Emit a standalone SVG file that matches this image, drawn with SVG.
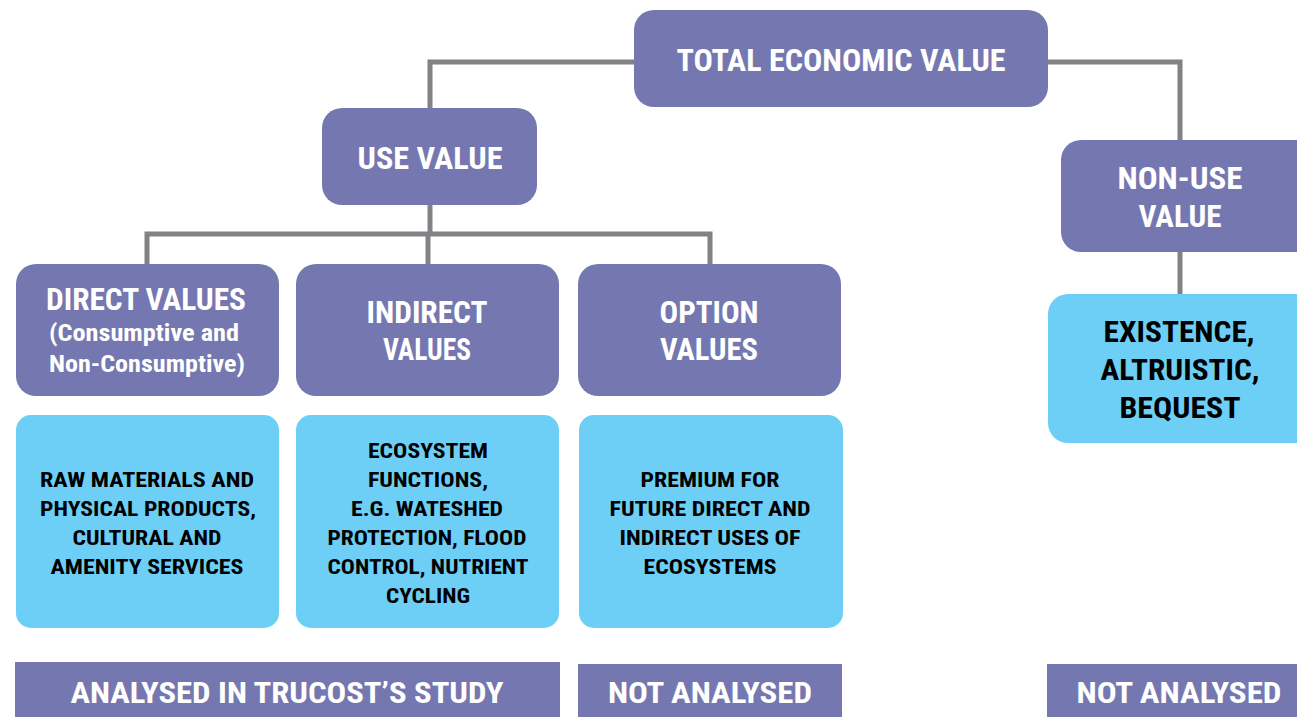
<svg xmlns="http://www.w3.org/2000/svg" width="1297" height="717" viewBox="0 0 1297 717">
<style>
.p{fill:#7578B0}
.b{fill:#6DCFF6}
.c{fill:none;stroke:#808285;stroke-width:5}
text{font-family:"Roboto Condensed","Liberation Sans Narrow","Liberation Sans",Arial,sans-serif;font-weight:bold;text-anchor:middle}
.w{fill:#fff;font-size:31px}
.ws{fill:#fff;font-size:23px}
.k{fill:#000;font-size:21px}
.kl{fill:#000;font-size:30px}
</style>
<rect width="1297" height="717" fill="#fff"/>
<g id="connectors">
<path class="c" d="M636 62H430V110"/>
<path class="c" d="M1046 62H1180V142"/>
<path class="c" d="M430 204V234"/>
<path class="c" d="M147 266V234H710V266"/>
<path class="c" d="M428 234V266"/>
<path class="c" d="M1180 250V296"/>
</g>
<g id="total">
<rect class="p" x="634" y="10" width="414" height="97" rx="20"/>
<text class="w" x="841" y="71" textLength="329" lengthAdjust="spacingAndGlyphs">TOTAL ECONOMIC VALUE</text>
</g>
<g id="use">
<rect class="p" x="322" y="108" width="215" height="97" rx="20"/>
<text class="w" x="430" y="169" textLength="145" lengthAdjust="spacingAndGlyphs">USE VALUE</text>
</g>
<g id="nonuse">
<rect class="p" x="1061" y="140" width="256" height="112" rx="20"/>
<text class="w" x="1180" y="189" textLength="125" lengthAdjust="spacingAndGlyphs">NON-USE</text>
<text class="w" x="1180" y="227" textLength="83" lengthAdjust="spacingAndGlyphs">VALUE</text>
</g>
<g id="direct">
<rect class="p" x="16" y="264" width="263" height="132" rx="20"/>
<text class="w" x="146" y="310" textLength="200" lengthAdjust="spacingAndGlyphs">DIRECT VALUES</text>
<text class="ws" x="144" y="341" textLength="190" lengthAdjust="spacingAndGlyphs">(Consumptive and</text>
<text class="ws" x="147" y="372" textLength="196" lengthAdjust="spacingAndGlyphs">Non-Consumptive)</text>
</g>
<g id="indirect">
<rect class="p" x="296" y="264" width="263" height="132" rx="20"/>
<text class="w" x="427" y="323" textLength="121" lengthAdjust="spacingAndGlyphs">INDIRECT</text>
<text class="w" x="427" y="360" textLength="88" lengthAdjust="spacingAndGlyphs">VALUES</text>
</g>
<g id="option">
<rect class="p" x="578" y="264" width="263" height="132" rx="20"/>
<text class="w" x="709" y="323" textLength="99" lengthAdjust="spacingAndGlyphs">OPTION</text>
<text class="w" x="709" y="360" textLength="98" lengthAdjust="spacingAndGlyphs">VALUES</text>
</g>
<g id="existence">
<rect class="b" x="1048" y="294" width="269" height="149" rx="20"/>
<text class="kl" x="1179" y="342" textLength="151" lengthAdjust="spacingAndGlyphs">EXISTENCE,</text>
<text class="kl" x="1180" y="380" textLength="159" lengthAdjust="spacingAndGlyphs">ALTRUISTIC,</text>
<text class="kl" x="1180" y="418" textLength="121" lengthAdjust="spacingAndGlyphs">BEQUEST</text>
</g>
<g id="direct-desc">
<rect class="b" x="16" y="415" width="263" height="213" rx="15"/>
<text class="k" x="147" y="487" textLength="214" lengthAdjust="spacingAndGlyphs">RAW MATERIALS AND</text>
<text class="k" x="148" y="516" textLength="216" lengthAdjust="spacingAndGlyphs">PHYSICAL PRODUCTS,</text>
<text class="k" x="147" y="545" textLength="149" lengthAdjust="spacingAndGlyphs">CULTURAL AND</text>
<text class="k" x="147" y="574" textLength="193" lengthAdjust="spacingAndGlyphs">AMENITY SERVICES</text>
</g>
<g id="indirect-desc">
<rect class="b" x="296" y="415" width="263" height="213" rx="15"/>
<text class="k" x="428" y="458" textLength="120" lengthAdjust="spacingAndGlyphs">ECOSYSTEM</text>
<text class="k" x="428" y="487" textLength="120" lengthAdjust="spacingAndGlyphs">FUNCTIONS,</text>
<text class="k" x="427" y="516" textLength="152" lengthAdjust="spacingAndGlyphs">E.G. WATESHED</text>
<text class="k" x="427" y="545" textLength="199" lengthAdjust="spacingAndGlyphs">PROTECTION, FLOOD</text>
<text class="k" x="428" y="574" textLength="201" lengthAdjust="spacingAndGlyphs">CONTROL, NUTRIENT</text>
<text class="k" x="428" y="603" textLength="84" lengthAdjust="spacingAndGlyphs">CYCLING</text>
</g>
<g id="option-desc">
<rect class="b" x="579" y="415" width="264" height="213" rx="15"/>
<text class="k" x="710" y="487" textLength="139" lengthAdjust="spacingAndGlyphs">PREMIUM FOR</text>
<text class="k" x="710" y="516" textLength="201" lengthAdjust="spacingAndGlyphs">FUTURE DIRECT AND</text>
<text class="k" x="710" y="545" textLength="181" lengthAdjust="spacingAndGlyphs">INDIRECT USES OF</text>
<text class="k" x="710" y="574" textLength="133" lengthAdjust="spacingAndGlyphs">ECOSYSTEMS</text>
</g>
<g id="analysed">
<rect class="p" x="15" y="662" width="545" height="55"/>
<text class="w" x="287" y="703" textLength="433" lengthAdjust="spacingAndGlyphs" style="font-size:30px">ANALYSED IN TRUCOST’S STUDY</text>
</g>
<g id="not-analysed-1">
<rect class="p" x="578" y="664" width="264" height="53"/>
<text class="w" x="710" y="703" textLength="204" lengthAdjust="spacingAndGlyphs" style="font-size:30px">NOT ANALYSED</text>
</g>
<g id="not-analysed-2">
<rect class="p" x="1047" y="664" width="250" height="53"/>
<text class="w" x="1179" y="703" textLength="205" lengthAdjust="spacingAndGlyphs" style="font-size:30px">NOT ANALYSED</text>
</g>
</svg>
